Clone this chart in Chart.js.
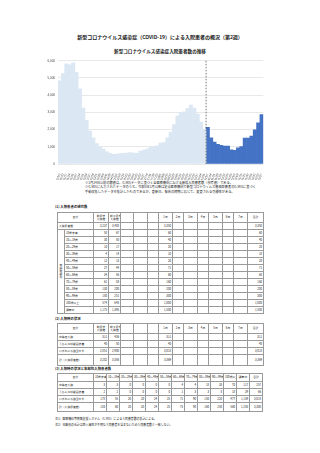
<!DOCTYPE html>
<html lang="ja">
<head>
<meta charset="utf-8">
<script src="https://cdn.jsdelivr.net/npm/chart.js@4.4.1/dist/chart.umd.min.js"></script>
<style>
  html, body { margin: 0; padding: 0; }
  body { width: 320px; height: 453px; background: #fff; position: relative; overflow: hidden;
         font-family: "Noto Sans CJK JP", "Noto Sans", sans-serif; color: #222; }
  .abs { position: absolute; white-space: nowrap; }
  #title { top: 33px; left: 0; width: 320px; text-align: center; font-size: 5px; font-weight: bold; }
  #ctitle { top: 48px; left: 0; width: 320px; text-align: center; font-size: 4.6px; font-weight: bold; }
  #chartBox { left: 30px; top: 56px; width: 236px; height: 124px; }
  #note { top: 181px; left: 85px; font-size: 3.2px; line-height: 4.4px; }
  .h { font-size: 3.4px; font-weight: bold; left: 55px; }
  table { position: absolute; border-collapse: collapse; table-layout: fixed; font-size: 2.8px; }
  td { border: 1px solid #9a9a9a; padding: 0 1px; text-align: right; overflow: hidden; white-space: nowrap; line-height: 3px; }
  td.l { text-align: left; }
  td.c { text-align: center; }
  .foot { left: 55px; font-size: 2.9px; }
</style>
</head>
<body>
<div id="title" class="abs">新型コロナウイルス感染症（COVID-19）による入院患者の概況（第2週）</div>
<div id="ctitle" class="abs">新型コロナウイルス感染症入院患者数の推移</div>
<div id="chartBox" class="abs"><canvas id="mainChart"></canvas></div>
<div id="note" class="abs">※1月24日以前の数値は、G-MISデータに基づく全医療機関における新規入院患者数（参考値）である。<br>※G-MISに入力されたデータのうち、令和5年1月以降は定点医療機関で新型コロナウイルス感染症患者のG-MISに基づく<br>手動収集したデータを集計したものであるが、更新日、報告の時期に応じて、変更される可能性がある。</div>

<div class="abs h" style="top:204px">(1) 入院患者の現在数</div>
<table id="t1" style="left:57px; top:212px; width:206px"></table>
<div class="abs h" style="top:316px">(2) 入院時の状況</div>
<table id="t2" style="left:57px; top:323px; width:206px"></table>
<div class="abs h" style="top:366px">(3) 入院時の状況と年齢別入院患者数</div>
<table id="t3" style="left:57px; top:373px; width:206px"></table>
<div class="abs foot" style="top:417px">注1）医療機関等情報支援システム（G-MIS）による入院患者数の集計による。</div>
<div class="abs foot" style="top:423px">注2）年齢別の合計は個人属性が不明な入院患者を含まないため入院患者数と一致しない。</div>

<script>
// chart data
const weekLabels = [
  '2022/1/3', '2022/1/10', '2022/1/17', '2022/1/24', '2022/1/31', '2022/2/7', '2022/2/14', '2022/2/21',
  '2022/2/28', '2022/3/7', '2022/3/14', '2022/3/21', '2022/3/28', '2022/4/4', '2022/4/11', '2022/4/18',
  '2022/4/25', '2022/5/2', '2022/5/9', '2022/5/16', '2022/5/23', '2022/5/30', '2022/6/6', '2022/6/13',
  '2022/6/20', '2022/6/27', '2022/7/4', '2022/7/11', '2022/7/18', '2022/7/25', '2022/8/1', '2022/8/8',
  '2022/8/15', '2022/8/22', '2022/8/29', '2022/9/5', '2022/9/12', '2022/9/19', '2022/9/26', '2022/10/3',
  '2022/10/10', '2022/10/17', '2022/10/24', '2022/10/31',
  '2022/11/7', '2022/11/14', '2022/11/21', '2022/11/28', '2022/12/5', '2022/12/12', '2022/12/19',
  '2022/12/26', '2023/1/2', '2023/1/9', '2023/1/16', '2023/1/23', '2023/1/30', '2023/2/6', '2023/2/13',
  '2023/2/20', '2023/2/27'
];
const pastPatients = [
  4830, 5250, 5830, 5770, 5880, 5330, 4370, 3250, 2540, 1920, 1520, 1190, 980, 870, 710, 620,
  560, 580, 600, 620, 630, 670, 630, 620, 750, 810, 870, 980, 1020, 1060, 1210, 1250,
  1520, 1850, 2290, 2790, 3000, 3040, 3230, 3420, 3250, 2900, 2440, 2000
];
const currentPatients = [
  2130, 1520, 1270, 1150, 1080, 1040, 1040, 830, 790, 940, 1020, 1500, 1500, 1620, 1980, 2400, 2870
];
const yTicks = [0, 1000, 2000, 3000, 4000, 5000, 6000];

// table data
const dayHeads = ['1日', '2日', '3日', '4日', '5日', '6日', '7日'];
const ageGroups = ['10歳未満', '10～19歳', '20～29歳', '30～39歳', '40～49歳', '50～59歳',
  '60～69歳', '70～79歳', '80～89歳', '90～99歳', '100歳以上', '調査中'];
const ageNow = [[58, 67, 60], [30, 50, 40], [10, 17, 20], [4, 14, 10], [12, 13, 20], [27, 44, 71],
  [34, 56, 60], [61, 83, 160], [130, 200, 200], [180, 251, 300], [574, 648, '1,000'], ['1,175', '1,395', '1,500']];
const totalNow = ['3,237', '3,408', '3,350'];
const statusRows = ['中等症入院', 'うち人工呼吸器装着', 'いずれにも該当せず', '計（入院患者数）'];
const statusNow = [[311, 436, 311], [40, 50, 40], ['2,851', '2,900', '3,018'], ['3,202', '3,386', '3,369']];
const ageHeads = ['10歳未満', '10～19歳', '20～29歳', '30～39歳', '40～49歳', '50～59歳', '60～69歳',
  '70～79歳', '80～89歳', '90～99歳', '100歳以上', '調査中', '合計'];
const statusByAge = [
  [3, 3, 0, 0, 0, 0, 4, 4, 18, 33, 70, 117, 257],
  [2, 2, 0, 0, 0, 0, 1, 3, 3, 8, 18, 29, 66],
  [178, 55, 20, 20, 24, 25, 71, 90, 150, 220, 477, '1,139', '3,018'],
  [183, 60, 20, 20, 24, 25, 75, 98, 160, 250, 560, '1,250', '3,300']
];

// dashed line between last year's bars and the current ones
const dividerLine = {
  id: 'dividerLine',
  afterDatasetsDraw(chart) {
    const x = chart.scales.x, y = chart.scales.y, ctx = chart.ctx;
    const i = pastPatients.length;
    const px = (x.getPixelForValue(i - 1) + x.getPixelForValue(i)) / 2;
    ctx.save();
    ctx.strokeStyle = '#555';
    ctx.lineWidth = 0.8;
    ctx.setLineDash([1.5, 1.5]);
    ctx.beginPath();
    ctx.moveTo(px, y.top);
    ctx.lineTo(px, y.bottom);
    ctx.stroke();
    ctx.restore();
  }
};

const nulls = n => new Array(n).fill(null);
new Chart(document.getElementById('mainChart').getContext('2d'), {
  type: 'bar',
  data: {
    labels: weekLabels,
    datasets: [
      { label: '過去', data: pastPatients.concat(nulls(currentPatients.length)), backgroundColor: '#dce7f4' },
      { label: '直近', data: nulls(pastPatients.length).concat(currentPatients), backgroundColor: '#4472c4' }
    ]
  },
  options: {
    responsive: true,
    maintainAspectRatio: false,
    animation: false,
    layout: { padding: { top: 2, right: 0, left: 0, bottom: 0 } },
    datasets: { bar: { categoryPercentage: 1, barPercentage: 1, borderWidth: 0 } },
    plugins: { legend: { display: false }, tooltip: { enabled: false } },
    scales: {
      x: {
        stacked: true,
        grid: { display: false },
        border: { display: false },
        ticks: { autoSkip: false, minRotation: 70, maxRotation: 70, padding: 1, font: { size: 3 }, color: '#444' },
        afterFit: s => { s.height = 16; }
      },
      y: {
        stacked: true,
        min: 0, max: 6000,
        afterBuildTicks: s => { s.ticks = yTicks.map(v => ({ value: v })); },
        grid: { color: '#e8e8e8', drawTicks: false },
        border: { display: false },
        ticks: { padding: 3, font: { size: 3 }, color: '#444', callback: v => v.toLocaleString() },
        afterFit: s => { s.width = 28; }
      }
    }
  },
  plugins: [dividerLine]
});

// tables
function row(cells, h) {
  return '<tr style="height:' + (h || 7) + 'px">' + cells.join('') + '</tr>';
}
const td = (t, cls, extra) => '<td' + (cls ? ' class="' + cls + '"' : '') + (extra || '') + '>' + (t === undefined ? '' : t) + '</td>';
const blanks = n => new Array(n).fill(td('')).join('');

function colgroup(ws) {
  return '<colgroup>' + ws.map(w => '<col style="width:' + w + 'px">').join('') + '</colgroup>';
}
const wMain = [7, 29, 15, 12, 13, 14, 11, 14, 11, 14, 11, 14, 11, 14, 16];

function headRow() {
  return row([td('区分', 'c', ' colspan="2"'), td('前週末<br>入院数', 'c'), td('前々週末<br>入院数', 'c'),
    blanks(3), dayHeads.map(d => td(d, 'c')).join(''), td('合計', 'c')], 10);
}
function valueCells(v) {
  return td(v[0]) + td(v[1]) + blanks(3) + td(v[2]) + blanks(6) + td(v[2]);
}

let t1 = colgroup(wMain) + headRow();
t1 += row([td('入院患者数', 'l', ' colspan="2"'), valueCells(totalNow)]);
ageGroups.forEach((a, i) => {
  const first = i === 0 ? td('年<br>齢<br>階<br>級<br>別', 'c', ' rowspan="' + ageGroups.length + '"') : '';
  t1 += row([first, td(a, 'l'), valueCells(ageNow[i])]);
});
document.getElementById('t1').innerHTML = t1;

let t2 = colgroup(wMain) + headRow();
statusRows.forEach((s, i) => {
  t2 += row([td(s, 'l', ' colspan="2"'), valueCells(statusNow[i])], i === 3 ? 11 : 7);
});
document.getElementById('t2').innerHTML = t2;

let t3 = colgroup([36].concat(new Array(13).fill(13)));
t3 += row([td('区分', 'c')].concat(ageHeads.map(a => td(a, 'c'))), 8);
statusRows.forEach((s, i) => {
  t3 += row([td(s, 'l')].concat(statusByAge[i].map(v => td(v))), i === 3 ? 9 : 7);
});
document.getElementById('t3').innerHTML = t3;
</script>
</body>
</html>
